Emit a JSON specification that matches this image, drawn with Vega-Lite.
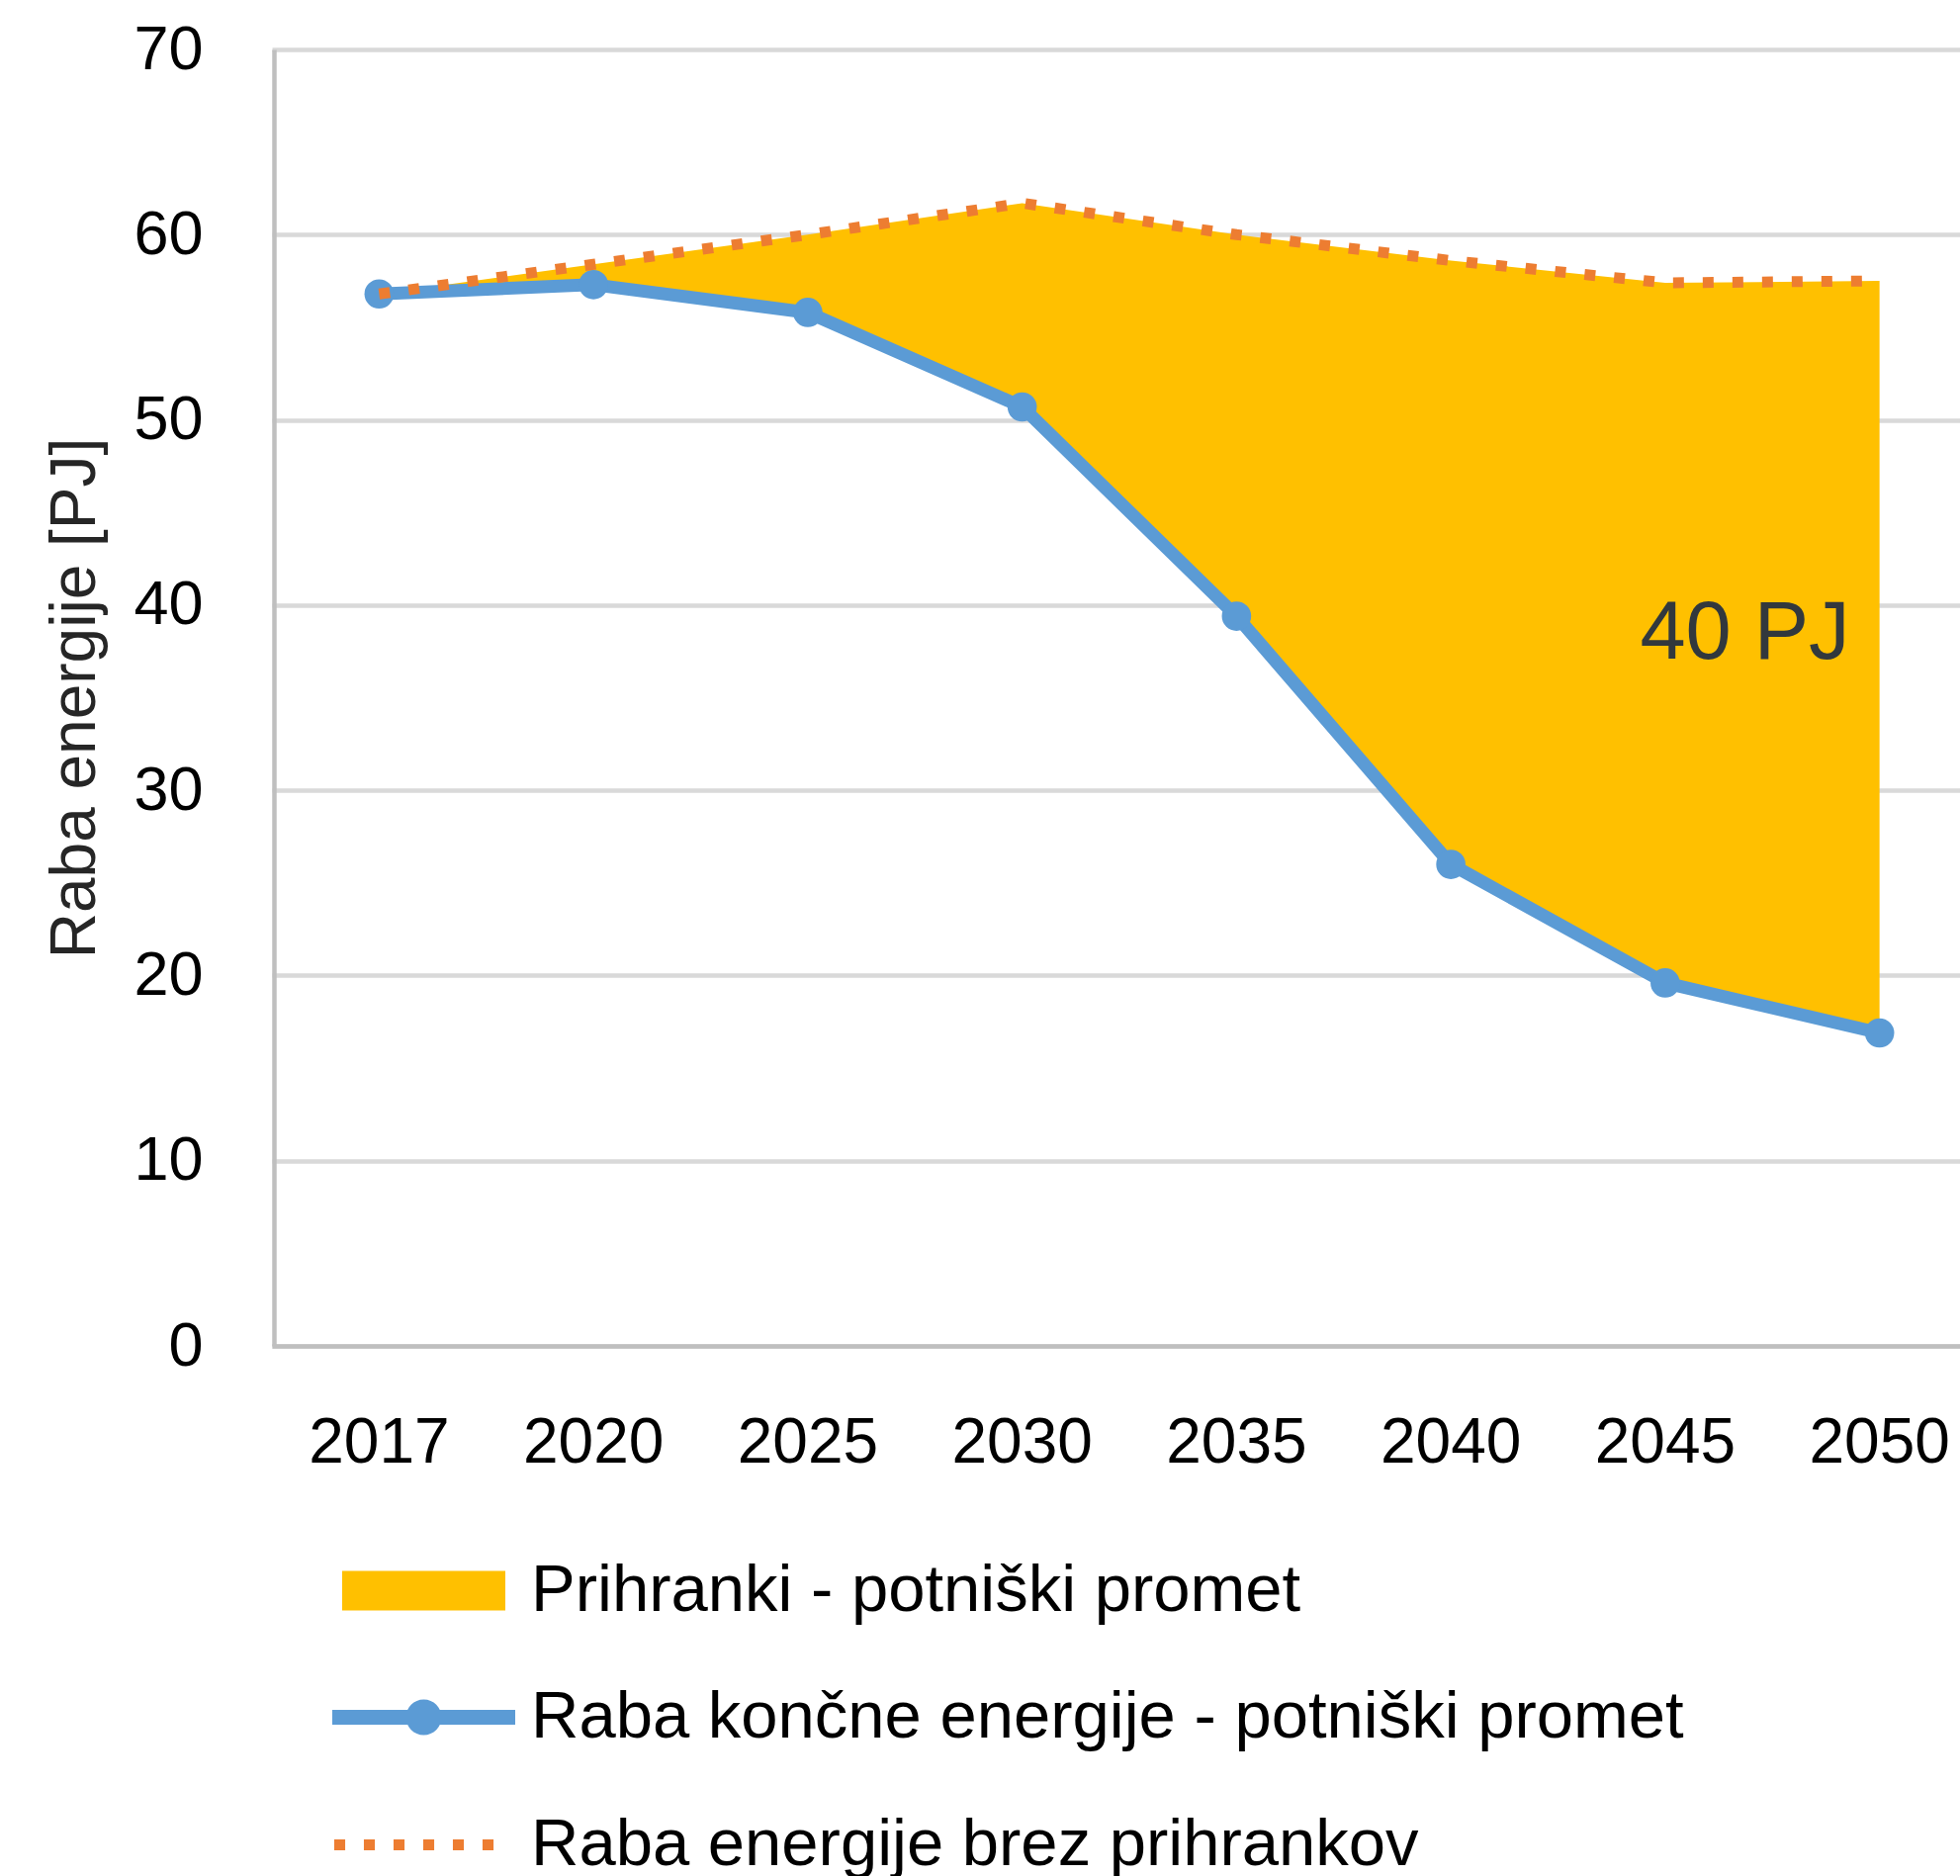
{
  "$schema": "https://vega.github.io/schema/vega-lite/v6.json",
  "width": 1705,
  "height": 1311,
  "autosize": {"type": "none"},
  "padding": {"left": 277, "top": 50, "right": 0, "bottom": 536},
  "background": "white",
  "config": {
    "view": {"stroke": null},
    "font": "Liberation Sans",
    "axis": {"labelFont": "Liberation Sans", "titleFont": "Liberation Sans"},
    "legend": {
      "labelFont": "Liberation Sans",
      "title": null,
      "orient": "none",
      "direction": "vertical",
      "padding": 0,
      "labelFontSize": 67,
      "labelColor": "#000000",
      "labelLimit": 2000,
      "labelOffset": 75,
      "symbolOffset": 0,
      "symbolSize": 3600,
      "symbolStrokeWidth": 0,
      "symbolOpacity": 1
    }
  },
  "resolve": {"scale": {"color": "independent"}, "legend": {"color": "independent"}},
  "datasets": {
    "series": [
      {"year": "2017", "actual": 56.8, "base": 56.8},
      {"year": "2020", "actual": 57.3, "base": 58.4},
      {"year": "2025", "actual": 55.8, "base": 60.0},
      {"year": "2030", "actual": 50.7, "base": 61.7},
      {"year": "2035", "actual": 39.4, "base": 60.0},
      {"year": "2040", "actual": 26.0, "base": 58.6},
      {"year": "2045", "actual": 19.6, "base": 57.4},
      {"year": "2050", "actual": 16.9, "base": 57.5}
    ],
    "note": [
      {"year": "2050", "v": 37.1, "label": "40 PJ"}
    ]
  },
  "data": {"name": "series"},
  "encoding": {
    "x": {
      "field": "year",
      "type": "ordinal",
      "bandPosition": 0.5,
      "scale": {
        "type": "band",
        "domain": ["2017", "2020", "2025", "2030", "2035", "2040", "2045", "2050"],
        "range": [-2, 1732],
        "paddingInner": 0,
        "paddingOuter": 0
      },
      "axis": {
        "title": null,
        "labelFontSize": 64,
        "labelColor": "#000000",
        "labelPadding": 66,
        "labelAngle": 0,
        "ticks": false,
        "tickSize": 0,
        "grid": false,
        "domainColor": "#BFBFBF",
        "domainWidth": 4.5,
        "zindex": 1
      }
    }
  },
  "layer": [
    {
      "mark": {"type": "area", "opacity": 1, "interpolate": "linear"},
      "encoding": {
        "y": {
          "field": "base",
          "type": "quantitative",
          "title": "Raba energije [PJ]",
          "scale": {"domain": [0, 70], "nice": false},
          "axis": {
            "values": [0, 10, 20, 30, 40, 50, 60, 70],
            "title": "Raba energije [PJ]",
            "titleFontSize": 64,
            "titleFontWeight": "normal",
            "titleColor": "#262626",
            "titlePadding": 26,
            "labelFontSize": 63,
            "labelColor": "#000000",
            "labelPadding": 72,
            "ticks": false,
            "tickSize": 0,
            "domainColor": "#BFBFBF",
            "domainWidth": 4.5,
            "gridColor": "#D9D9D9",
            "gridWidth": 4.5
          }
        },
        "y2": {"field": "actual"},
        "color": {
          "datum": "Prihranki - potniški promet",
          "type": "nominal",
          "scale": {"domain": ["Prihranki - potniški promet"], "range": ["#FFC000"]},
          "legend": {
            "legendX": 118,
            "legendY": 1525,
            "symbolType": "M-2.75,-0.667H2.75V0.667H-2.75Z",
            "symbolFillColor": "#FFC000"
          }
        }
      }
    },
    {
      "mark": {"type": "line", "strokeWidth": 13, "strokeCap": "butt", "strokeJoin": "round"},
      "encoding": {
        "y": {"field": "actual", "type": "quantitative", "title": "Raba energije [PJ]"},
        "color": {
          "datum": "Raba končne energije - potniški promet",
          "type": "nominal",
          "scale": {"domain": ["Raba končne energije - potniški promet"], "range": ["#5B9BD5"]},
          "legend": {
            "legendX": 118,
            "legendY": 1653,
            "symbolType": "M-3.083,-0.25H3.083V0.25H-3.083Z M0.6,0A0.6,0.6 0 1 1 -0.6,0A0.6,0.6 0 1 1 0.6,0Z",
            "symbolFillColor": "#5B9BD5",
            "symbolStrokeColor": "#5B9BD5"
          }
        }
      }
    },
    {
      "mark": {"type": "circle", "size": 880, "color": "#5B9BD5", "opacity": 1},
      "encoding": {
        "y": {"field": "actual", "type": "quantitative", "title": "Raba energije [PJ]"}
      }
    },
    {
      "mark": {"type": "line", "strokeWidth": 11, "strokeDash": [11, 19], "strokeCap": "butt"},
      "encoding": {
        "y": {"field": "base", "type": "quantitative", "title": "Raba energije [PJ]"},
        "color": {
          "datum": "Raba energije brez prihrankov",
          "type": "nominal",
          "scale": {"domain": ["Raba energije brez prihrankov"], "range": ["#ED7D31"]},
          "legend": {
            "legendX": 118,
            "legendY": 1782,
            "symbolType": "M-3.018,-0.185H-2.648V0.185H-3.018Z M-2.018,-0.185H-1.648V0.185H-2.018Z M-1.018,-0.185H-0.648V0.185H-1.018Z M-0.018,-0.185H0.352V0.185H-0.018Z M0.982,-0.185H1.352V0.185H0.982Z M1.982,-0.185H2.352V0.185H1.982Z",
            "symbolFillColor": "#ED7D31",
            "symbolStrokeColor": "#ED7D31",
            "symbolDash": [1, 0]
          }
        }
      }
    },
    {
      "data": {"name": "note"},
      "mark": {"type": "text", "fontSize": 83, "align": "right", "baseline": "alphabetic", "dx": -30, "color": "#32383D", "font": "Liberation Sans"},
      "encoding": {
        "y": {"field": "v", "type": "quantitative", "title": "Raba energije [PJ]"},
        "text": {"field": "label"}
      }
    }
  ]
}
